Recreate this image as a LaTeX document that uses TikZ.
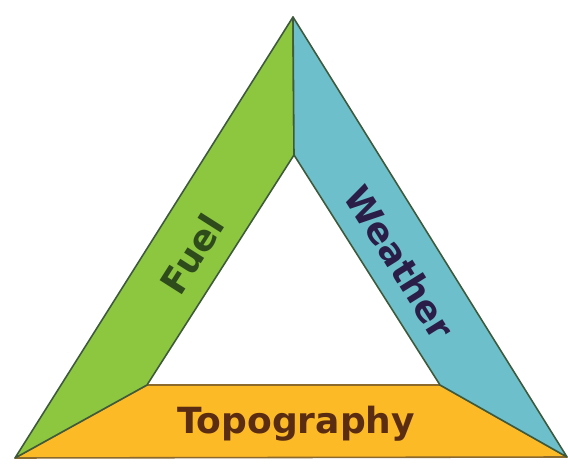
\documentclass[tikz,border=0pt]{standalone}
\usepackage{fontspec}
\setmainfont{DejaVu Sans}
\usepackage{tikz}

\definecolor{fuelgreen}{HTML}{8DC63F}
\definecolor{weatherblue}{HTML}{6DBFCB}
\definecolor{topoorange}{HTML}{FDBA27}
\definecolor{edgedark}{HTML}{3E5A3C}
\definecolor{edgebrown}{HTML}{8C6A2C}
\definecolor{fueltext}{HTML}{2E4B1C}
\definecolor{weathertext}{HTML}{2A1E48}
\definecolor{topotext}{HTML}{5A2C12}

\begin{document}
\begin{tikzpicture}[x=0.02cm,y=-0.02cm]
  \tikzset{band/.style = {line width=0.9pt,line join=round}}
  \tikzset{label/.style = {font=\bfseries\fontsize{20.5}{24}\selectfont,inner sep=0pt}}

  \useasboundingbox (0,0) rectangle (568,465);

	\coordinate (top) at (293,17);
	\coordinate (bl) at (15,458);
	\coordinate (br) at (567,457);
	\coordinate (itop) at (294,155);
	\coordinate (ibl) at (147,385);
	\coordinate (ibr) at (440,385);

	\draw[band,fill=topoorange,draw=edgebrown] (bl) -- (ibl) -- (ibr) -- (br) -- cycle;
	\draw[band,fill=fuelgreen,draw=edgedark] (top) -- (itop) -- (ibl) -- (bl) -- cycle;
	\draw[band,fill=weatherblue,draw=edgedark] (top) -- (br) -- (ibr) -- (itop) -- cycle;

	\node[label,text=fueltext,rotate=57.6] (fuel) at (192,254) {Fuel};
	\node[label,text=weathertext,rotate=-58] (weather) at (400,262) {Weather};
	\node[label,text=topotext] (topo) at (296,424) {Topography};
\end{tikzpicture}
\end{document}
